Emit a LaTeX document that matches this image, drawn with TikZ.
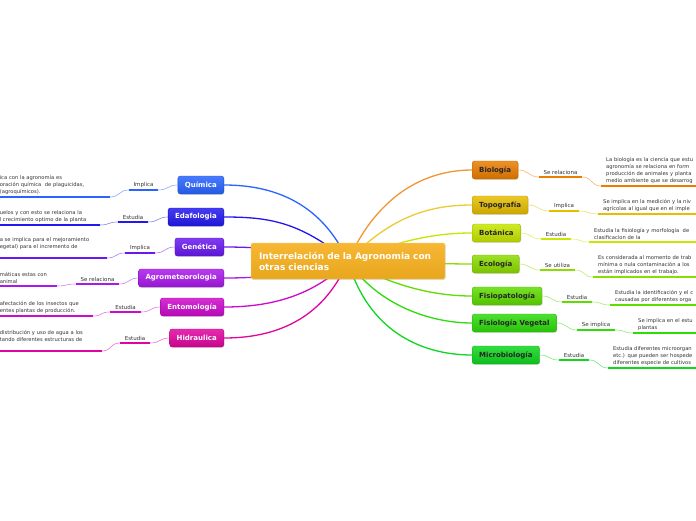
\documentclass[tikz,border=0pt]{standalone}
\usepackage{fontspec}
\setmainfont{DejaVu Sans}
\usetikzlibrary{shadows,backgrounds}
\definecolor{colCentro}{RGB}{245,175,30}
\definecolor{colQuimica}{RGB}{40,100,255}
\definecolor{colEdafo}{RGB}{35,25,240}
\definecolor{colGenetica}{RGB}{105,25,240}
\definecolor{colAgro}{RGB}{170,25,235}
\definecolor{colEntomo}{RGB}{205,10,205}
\definecolor{colHidra}{RGB}{225,5,160}
\definecolor{colBiologia}{RGB}{235,125,0}
\definecolor{colTopo}{RGB}{230,190,0}
\definecolor{colBotanica}{RGB}{200,230,0}
\definecolor{colEcologia}{RGB}{140,220,0}
\definecolor{colFisiopat}{RGB}{95,220,0}
\definecolor{colFisioVeg}{RGB}{45,220,10}
\definecolor{colMicro}{RGB}{15,215,30}
\newcommand{\descfont}{\fontsize{5.2}{7}\selectfont}
\newcommand{\relfont}{\fontsize{5.5}{6.5}\selectfont}
\tikzset{
  tema/.style={rectangle, rounded corners=2.5pt, minimum height=18pt, inner xsep=7pt,
    top color=#1!85!white, bottom color=#1!88!black, draw=#1!80!black, line width=.4pt,
    text=white, font=\bfseries\fontsize{7}{8}\selectfont,
    drop shadow={opacity=.25, shadow xshift=.6pt, shadow yshift=-.8pt}},
  temaR/.style={tema=#1, text=black!85},
  centro/.style={rectangle, rounded corners=1.5pt, minimum height=36pt, text width=178pt,
    inner xsep=8pt, align=left, top color=colCentro!90!white, bottom color=colCentro!95!black,
    draw=colCentro!60!white, line width=.4pt, text=white, font=\bfseries\fontsize{9}{11}\selectfont,
    drop shadow={opacity=.25, shadow xshift=.6pt, shadow yshift=-.8pt}},
  rel/.style={font=\relfont, text=black!80, inner xsep=0pt, inner ysep=1.8pt, anchor=south},
  descL/.style={font=\descfont, text=black!80, align=left, text width=#1, inner xsep=0pt, inner ysep=2.5pt, anchor=south east},
  descR/.style={font=\descfont, text=black!80, align=left, text width=130pt, inner xsep=5pt, inner ysep=2.5pt, anchor=south west},
  rama/.style={draw=#1, line width=1.3pt},
  enlace/.style={draw=#1!55!white, line width=.6pt},
  subr/.style={draw=#1, line width=2.2pt},
}

\begin{document}
\begin{tikzpicture}[x=1pt, y=-1pt]
\useasboundingbox (0,0) rectangle (696,520);

% tema central
\node[centro] (centro) at (348,261) {Interrelación de la Agronomia con\\otras ciencias};

% ramas izquierda
\node[tema=colQuimica, anchor=east] (quimica) at (224,185) {Química};
\node[tema=colEdafo, anchor=east] (edafologia) at (224,217) {Edafologia};
\node[tema=colGenetica, anchor=east] (genetica) at (224,247) {Genética};
\node[tema=colAgro, anchor=east] (agro) at (224,278) {Agrometeorologia};
\node[tema=colEntomo, anchor=east] (entomologia) at (224,307) {Entomología};
\node[tema=colHidra, anchor=east] (hidraulica) at (224,338) {Hidraulica};

% ramas derecha
\node[temaR=colBiologia, anchor=west] (biologia) at (472,170) {Biología};
\node[temaR=colTopo, anchor=west] (topografia) at (472,205) {Topografía};
\node[temaR=colBotanica, anchor=west] (botanica) at (472,233) {Botánica};
\node[temaR=colEcologia, anchor=west] (ecologia) at (472,264) {Ecología};
\node[temaR=colFisiopat, anchor=west] (fisiopat) at (472,296) {Fisiopatología};
\node[temaR=colFisioVeg, anchor=west] (fisioveg) at (472,323) {Fisiología Vegetal};
\node[temaR=colMicro, anchor=west] (micro) at (472,355) {Microbiología};

% relaciones izquierda
\node[rel, minimum width=29pt] (lQuimica) at (143.5,190) {Implica};
\node[rel, minimum width=30pt] (lEdafo) at (133,222) {Estudia};
\node[rel, minimum width=30pt] (lGenetica) at (140,253) {Implica};
\node[rel, minimum width=43pt] (lAgro) at (97.5,284) {Se relaciona};
\node[rel, minimum width=31pt] (lEntomo) at (125.5,312) {Estudia};
\node[rel, minimum width=30pt] (lHidra) at (135,343) {Estudia};

% relaciones derecha
\node[rel, minimum width=43pt] (lBiologia) at (560.5,177) {Se relaciona};
\node[rel, minimum width=30pt] (lTopo) at (564,211) {Implica};
\node[rel, minimum width=30pt] (lBotanica) at (556,239) {Estudia};
\node[rel, minimum width=35pt] (lEcologia) at (557.5,270) {Se utiliza};
\node[rel, minimum width=30pt] (lFisiopat) at (577,302) {Estudia};
\node[rel, minimum width=38pt] (lFisioVeg) at (596,330) {Se implica};
\node[rel, minimum width=30pt] (lMicro) at (574,360) {Estudia};

% descripciones izquierda
\node[descL=110pt] (dQuimica) at (110,197) {ica con la agronomía es\\oración química~ de plaguicidas,\\(agroquímicos).};
\node[descL=100pt] (dEdafo) at (100,225) {uelos y con esto se relaciona la\\l crecimiento optimo de la planta};
\node[descL=107pt] (dGenetica) at (107,258) {a se implica para el mejoramiento\\egetal) para el incremento de\\\mbox{}};
\node[descL=57pt] (dAgro) at (57,286) {máticas estas con\\animal};
\node[descL=93pt] (dEntomo) at (93,316) {afectación de los insectos que\\entes plantas de producción.};
\node[descL=102pt] (dHidra) at (102,351) {distribución y uso de agua a los\\tando diferentes estructuras de\\\mbox{}};

% descripciones derecha
\node[descR] (dBiologia) at (601,186) {La biología es la ciencia que estu\\agronomía se relaciona en form\\producción de animales y planta\\medio ambiente que se desarrog};
\node[descR] (dTopo) at (598,214) {Se implica en la medición y la niv\\agrícolas al igual que en el imple};
\node[descR] (dBotanica) at (589,242) {Estudia la fisiología y morfología~ de\\clasificacion de la};
\node[descR] (dEcologia) at (593,277) {Es considerada al momento de trab\\mínima o nula contaminación a los\\están implicados en el trabajo.};
\node[descR] (dFisiopat) at (610,305) {Estudia la identificación y el c\\causadas por diferentes orga};
\node[descR] (dFisioVeg) at (633,333) {Se implica en el estu\\plantas};
\node[descR] (dMicro) at (608,368) {Estudia diferentes microorgan\\etc.) que pueden ser hospede\\diferentes especie de cultivos};

\begin{pgfonlayer}{background}
\fill[white] (0,0) rectangle (696,520);
% ramas principales
\draw[rama=colQuimica] (centro.center) .. controls (320,200) and (270,185) .. (quimica.east);
\draw[rama=colEdafo] (centro.center) .. controls (300,222) and (270,217) .. (edafologia.east);
\draw[rama=colGenetica] (centro.center) .. controls (300,250) and (260,247) .. (genetica.east);
\draw[rama=colAgro] (centro.center) .. controls (300,275) and (260,278) .. (agro.east);
\draw[rama=colEntomo] (centro.center) .. controls (310,300) and (262,307) .. (entomologia.east);
\draw[rama=colHidra] (centro.center) .. controls (322,322) and (272,338) .. (hidraulica.east);
\draw[rama=colBiologia!80!white] (centro.center) .. controls (380,190) and (430,170) .. (biologia.west);
\draw[rama=colTopo!80!white] (centro.center) .. controls (392,215) and (432,205) .. (topografia.west);
\draw[rama=colBotanica] (centro.center) .. controls (405,238) and (440,233) .. (botanica.west);
\draw[rama=colEcologia] (centro.center) .. controls (400,262) and (440,264) .. (ecologia.west);
\draw[rama=colFisiopat] (centro.center) .. controls (390,285) and (432,296) .. (fisiopat.west);
\draw[rama=colFisioVeg] (centro.center) .. controls (378,305) and (430,323) .. (fisioveg.west);
\draw[rama=colMicro] (centro.center) .. controls (368,330) and (420,355) .. (micro.west);
\end{pgfonlayer}

% enlaces izquierda
\draw[enlace=colQuimica] (quimica.west) .. controls +(-10,0) and +(10,0) .. (lQuimica.south east);
\draw[enlace=colQuimica] (lQuimica.south west) .. controls +(-10,0) and +(10,0) .. (dQuimica.south east);
\draw[subr=colQuimica] (lQuimica.south west) -- (lQuimica.south east);
\draw[subr=colQuimica] (dQuimica.south west) -- (dQuimica.south east);

\draw[enlace=colEdafo] (edafologia.west) .. controls +(-10,0) and +(10,0) .. (lEdafo.south east);
\draw[enlace=colEdafo] (lEdafo.south west) .. controls +(-10,0) and +(10,0) .. (dEdafo.south east);
\draw[subr=colEdafo] (lEdafo.south west) -- (lEdafo.south east);
\draw[subr=colEdafo] (dEdafo.south west) -- (dEdafo.south east);

\draw[enlace=colGenetica] (genetica.west) .. controls +(-10,0) and +(10,0) .. (lGenetica.south east);
\draw[enlace=colGenetica] (lGenetica.south west) .. controls +(-10,0) and +(10,0) .. (dGenetica.south east);
\draw[subr=colGenetica] (lGenetica.south west) -- (lGenetica.south east);
\draw[subr=colGenetica] (dGenetica.south west) -- (dGenetica.south east);

\draw[enlace=colAgro] (agro.west) .. controls +(-10,0) and +(10,0) .. (lAgro.south east);
\draw[enlace=colAgro] (lAgro.south west) .. controls +(-10,0) and +(10,0) .. (dAgro.south east);
\draw[subr=colAgro] (lAgro.south west) -- (lAgro.south east);
\draw[subr=colAgro] (dAgro.south west) -- (dAgro.south east);

\draw[enlace=colEntomo] (entomologia.west) .. controls +(-10,0) and +(10,0) .. (lEntomo.south east);
\draw[enlace=colEntomo] (lEntomo.south west) .. controls +(-10,0) and +(10,0) .. (dEntomo.south east);
\draw[subr=colEntomo] (lEntomo.south west) -- (lEntomo.south east);
\draw[subr=colEntomo] (dEntomo.south west) -- (dEntomo.south east);

\draw[enlace=colHidra] (hidraulica.west) .. controls +(-10,0) and +(10,0) .. (lHidra.south east);
\draw[enlace=colHidra] (lHidra.south west) .. controls +(-10,0) and +(10,0) .. (dHidra.south east);
\draw[subr=colHidra] (lHidra.south west) -- (lHidra.south east);
\draw[subr=colHidra] (dHidra.south west) -- (dHidra.south east);

% enlaces derecha
\draw[enlace=colBiologia] (biologia.east) .. controls +(10,0) and +(-10,0) .. (lBiologia.south west);
\draw[enlace=colBiologia] (lBiologia.south east) .. controls +(10,0) and +(-10,0) .. (dBiologia.south west);
\draw[subr=colBiologia] (lBiologia.south west) -- (lBiologia.south east);
\draw[subr=colBiologia] (dBiologia.south west) -- (dBiologia.south east);

\draw[enlace=colTopo] (topografia.east) .. controls +(10,0) and +(-10,0) .. (lTopo.south west);
\draw[enlace=colTopo] (lTopo.south east) .. controls +(10,0) and +(-10,0) .. (dTopo.south west);
\draw[subr=colTopo] (lTopo.south west) -- (lTopo.south east);
\draw[subr=colTopo] (dTopo.south west) -- (dTopo.south east);

\draw[enlace=colBotanica] (botanica.east) .. controls +(10,0) and +(-10,0) .. (lBotanica.south west);
\draw[enlace=colBotanica] (lBotanica.south east) .. controls +(10,0) and +(-10,0) .. (dBotanica.south west);
\draw[subr=colBotanica] (lBotanica.south west) -- (lBotanica.south east);
\draw[subr=colBotanica] (dBotanica.south west) -- (dBotanica.south east);

\draw[enlace=colEcologia] (ecologia.east) .. controls +(10,0) and +(-10,0) .. (lEcologia.south west);
\draw[enlace=colEcologia] (lEcologia.south east) .. controls +(10,0) and +(-10,0) .. (dEcologia.south west);
\draw[subr=colEcologia] (lEcologia.south west) -- (lEcologia.south east);
\draw[subr=colEcologia] (dEcologia.south west) -- (dEcologia.south east);

\draw[enlace=colFisiopat] (fisiopat.east) .. controls +(10,0) and +(-10,0) .. (lFisiopat.south west);
\draw[enlace=colFisiopat] (lFisiopat.south east) .. controls +(10,0) and +(-10,0) .. (dFisiopat.south west);
\draw[subr=colFisiopat] (lFisiopat.south west) -- (lFisiopat.south east);
\draw[subr=colFisiopat] (dFisiopat.south west) -- (dFisiopat.south east);

\draw[enlace=colFisioVeg] (fisioveg.east) .. controls +(10,0) and +(-10,0) .. (lFisioVeg.south west);
\draw[enlace=colFisioVeg] (lFisioVeg.south east) .. controls +(10,0) and +(-10,0) .. (dFisioVeg.south west);
\draw[subr=colFisioVeg] (lFisioVeg.south west) -- (lFisioVeg.south east);
\draw[subr=colFisioVeg] (dFisioVeg.south west) -- (dFisioVeg.south east);

\draw[enlace=colMicro] (micro.east) .. controls +(10,0) and +(-10,0) .. (lMicro.south west);
\draw[enlace=colMicro] (lMicro.south east) .. controls +(10,0) and +(-10,0) .. (dMicro.south west);
\draw[subr=colMicro] (lMicro.south west) -- (lMicro.south east);
\draw[subr=colMicro] (dMicro.south west) -- (dMicro.south east);

\end{tikzpicture}
\end{document}
